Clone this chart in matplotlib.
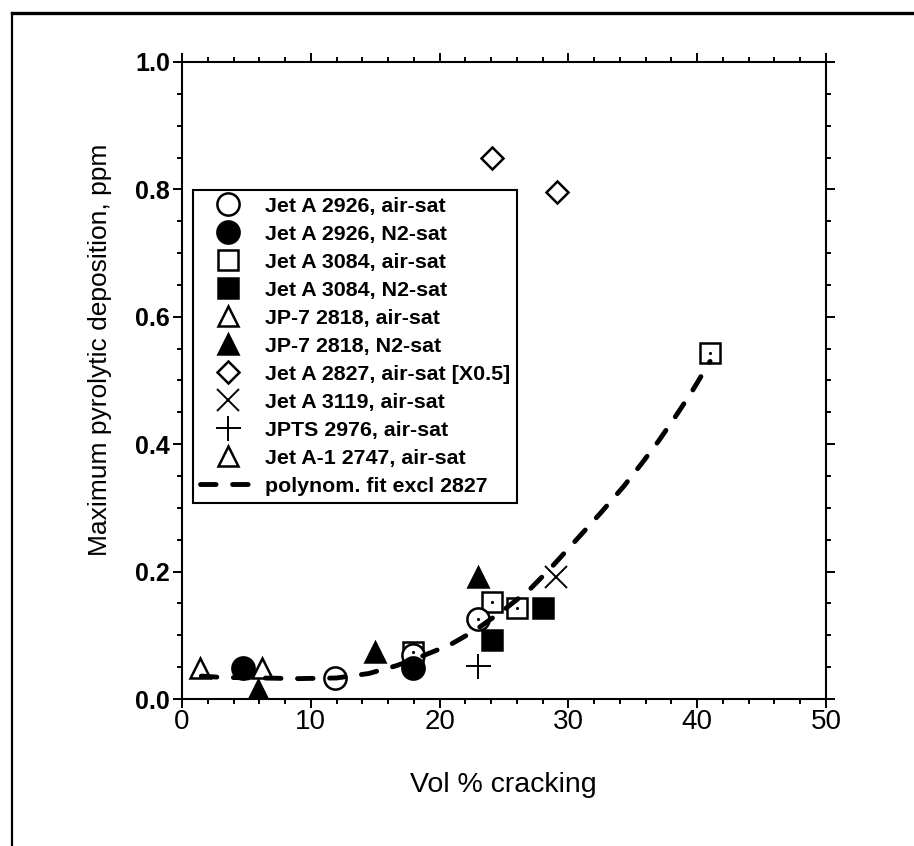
import matplotlib
matplotlib.use('Agg')
import matplotlib.pyplot as plt
from matplotlib.lines import Line2D
from matplotlib.ticker import MultipleLocator, FormatStrFormatter

plt.rcParams['font.family'] = ['Liberation Sans', 'DejaVu Sans']

# data (vol % cracking, ppm)
jetA2926_air_x = [11.9, 17.9, 23.0]
jetA2926_air_y = [0.033, 0.069, 0.125]
jetA2926_n2_x = [4.7, 17.9]
jetA2926_n2_y = [0.049, 0.049]
jetA3084_air_x = [17.9, 24.1, 26.0, 41.0]
jetA3084_air_y = [0.073, 0.153, 0.143, 0.543]
jetA3084_n2_x = [24.1, 28.0]
jetA3084_n2_y = [0.093, 0.143]
jp7_air_x = [6.2]
jp7_air_y = [0.049]
jp7_n2_x = [5.9, 15.0, 23.0]
jp7_n2_y = [0.014, 0.074, 0.192]
jetA2827_x = [24.1, 29.1]
jetA2827_y = [0.849, 0.796]
jetA3119_x = [29.0]
jetA3119_y = [0.192]
jpts2976_x = [23.0]
jpts2976_y = [0.052]
jetA1_2747_x = [1.4]
jetA1_2747_y = [0.049]

fit_x = [1.5, 3, 6, 9, 12, 14.5, 16.6, 18, 20.8, 22.7, 25, 27, 28.6, 30.4,
         32.5, 34.3, 35.7, 37, 38.3, 39.6, 41]
fit_y = [0.036, 0.034, 0.033, 0.032, 0.033, 0.040, 0.052, 0.062, 0.085, 0.107,
         0.140, 0.172, 0.205, 0.245, 0.292, 0.334, 0.370, 0.405, 0.443, 0.483, 0.530]

W, H = 914, 846
fig = plt.figure(figsize=(W / 100, H / 100), dpi=100)
ax = fig.add_axes([182 / W, 1 - 699 / H, 644 / W, 637 / H])

mew = 1.8
common = dict(linestyle='none', color='black', markeredgecolor='black', markeredgewidth=mew)
ax.plot(jetA2926_air_x, jetA2926_air_y, marker='o', ms=16, mfc='white', label='Jet A 2926, air-sat', **common)
ax.plot(jetA2926_n2_x, jetA2926_n2_y, marker='o', ms=16, mfc='black', label='Jet A 2926, N2-sat', zorder=2.1, **common)
ax.plot(jetA3084_air_x, jetA3084_air_y, marker='s', ms=15, mfc='white', label='Jet A 3084, air-sat', zorder=1.9, **common)
ax.plot(jetA3084_n2_x, jetA3084_n2_y, marker='s', ms=15, mfc='black', label='Jet A 3084, N2-sat', **common)
ax.plot(jp7_air_x, jp7_air_y, marker='^', ms=15, mfc='white', label='JP-7 2818, air-sat', zorder=2.2, **common)
ax.plot(jp7_n2_x, jp7_n2_y, marker='^', ms=15, mfc='black', label='JP-7 2818, N2-sat', **common)
ax.plot(jetA2827_x, jetA2827_y, marker='D', ms=11, mfc='white', label='Jet A 2827, air-sat [X0.5]', **common)
ax.plot(jetA3119_x, jetA3119_y, marker='x', ms=16, mfc='none', label='Jet A 3119, air-sat',
        linestyle='none', color='black', markeredgewidth=1.4)
ax.plot(jpts2976_x, jpts2976_y, marker='+', ms=18, mfc='none', label='JPTS 2976, air-sat',
        linestyle='none', color='black', markeredgewidth=1.4)
ax.plot(jetA1_2747_x, jetA1_2747_y, marker='^', ms=15, mfc='white', label='Jet A-1 2747, air-sat', **common)

# small centre dots on the open data markers
ax.plot(jetA3084_air_x, jetA3084_air_y, marker='.', ms=2.5, color='black', linestyle='none', zorder=2.5)
ax.plot(jetA2926_air_x[2:], jetA2926_air_y[2:], marker='.', ms=2.5, color='black', linestyle='none', zorder=2.5)

ax.plot(fit_x, fit_y, color='black', lw=3.5, linestyle=(0, (3.2, 3.4)), dash_capstyle='round',
        solid_capstyle='round', label='polynom. fit excl 2827', zorder=3)

ax.set_xlim(0, 50)
ax.set_ylim(0, 1.0)
ax.xaxis.set_major_locator(MultipleLocator(10))
ax.xaxis.set_minor_locator(MultipleLocator(2))
ax.yaxis.set_major_locator(MultipleLocator(0.2))
ax.yaxis.set_minor_locator(MultipleLocator(0.05))
ax.yaxis.set_major_formatter(FormatStrFormatter('%.1f'))
ax.tick_params(which='both', direction='out', top=True, right=True, width=1.4, color='black')
ax.tick_params(which='major', length=6.5)
ax.tick_params(which='minor', length=3.5)
ax.tick_params(axis='x', labelsize=20, pad=1)
ax.tick_params(axis='y', labelsize=18, pad=2)
for lab in ax.get_yticklabels():
    lab.set_fontweight('bold')
for sp in ax.spines.values():
    sp.set_linewidth(1.5)

fig.text(100 / W, 1 - 350 / H, 'Maximum pyrolytic deposition, ppm', rotation=90,
         ha='center', va='center', fontsize=19)
fig.text(503 / W, 1 - 785 / H, 'Vol % cracking', ha='center', va='center', fontsize=20.5)

leg = ax.legend(loc='upper left', bbox_to_anchor=(193 / W, 1 - 190 / H), bbox_transform=fig.transFigure,
                borderaxespad=0, fancybox=False, framealpha=1, edgecolor='black',
                prop={'weight': 'bold', 'size': 15.4}, labelspacing=0.42, handlelength=2.6,
                handletextpad=0.45, borderpad=0.32, markerscale=1.0)
leg.get_frame().set_linewidth(1.5)

# border around the whole figure
fig.add_artist(Line2D([12 / W, 12 / W], [0, 1 - 13 / H], transform=fig.transFigure, color='black', lw=1.6))
fig.add_artist(Line2D([12 / W, 1], [1 - 13 / H, 1 - 13 / H], transform=fig.transFigure, color='black', lw=2.4))

fig.savefig('out.png', dpi=100, facecolor='white')
